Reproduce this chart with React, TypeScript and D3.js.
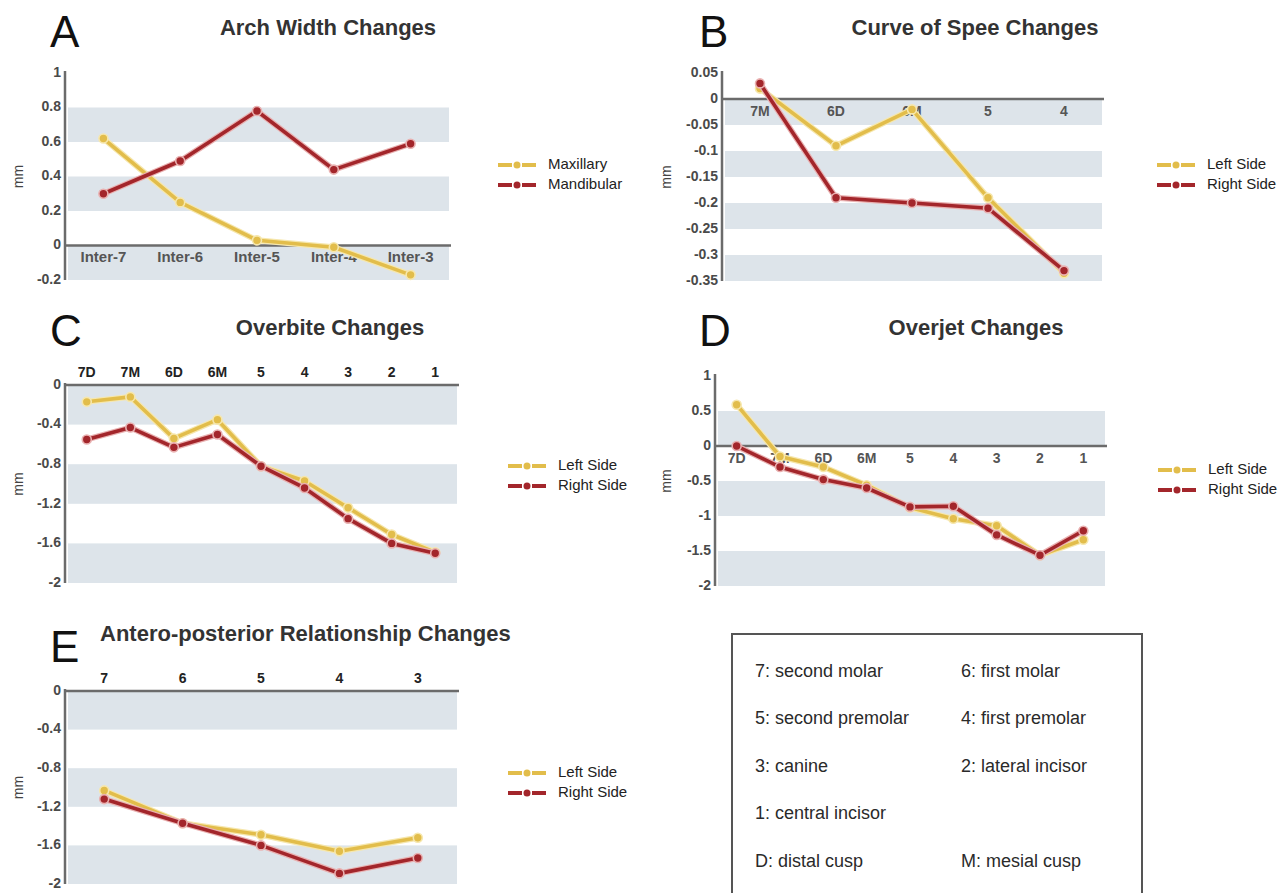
import React, { useEffect, useRef } from 'react';
import * as d3 from 'd3';

// A: arch width
const archCategories = ['Inter-7', 'Inter-6', 'Inter-5', 'Inter-4', 'Inter-3'];
const archMaxillary = [0.62, 0.25, 0.03, -0.01, -0.17];
const archMandibular = [0.30, 0.49, 0.78, 0.44, 0.59];
const archTicks = [-0.2, 0, 0.2, 0.4, 0.6, 0.8, 1];

// B: curve of spee
const speeCategories = ['7M', '6D', '6M', '5', '4'];
const speeLeft = [0.02, -0.09, -0.02, -0.19, -0.335];
const speeRight = [0.03, -0.19, -0.2, -0.21, -0.33];
const speeTicks = [-0.35, -0.3, -0.25, -0.2, -0.15, -0.1, -0.05, 0, 0.05];

// C + D: per tooth
const toothCategories = ['7D', '7M', '6D', '6M', '5', '4', '3', '2', '1'];
const overbiteLeft = [-0.17, -0.12, -0.54, -0.35, -0.82, -0.97, -1.24, -1.51, -1.69];
const overbiteRight = [-0.55, -0.43, -0.63, -0.5, -0.82, -1.04, -1.35, -1.6, -1.7];
const overbiteTicks = [-2, -1.6, -1.2, -0.8, -0.4, 0];

const overjetLeft = [0.59, -0.15, -0.3, -0.56, -0.88, -1.04, -1.14, -1.56, -1.34];
const overjetRight = [0.0, -0.3, -0.48, -0.6, -0.87, -0.86, -1.27, -1.56, -1.21];
const overjetTicks = [-2, -1.5, -1, -0.5, 0, 0.5, 1];

// E: antero-posterior
const apCategories = ['7', '6', '5', '4', '3'];
const apLeft = [-1.03, -1.37, -1.49, -1.66, -1.52];
const apRight = [-1.12, -1.37, -1.6, -1.89, -1.73];
const apTicks = [-2, -1.6, -1.2, -0.8, -0.4, 0];

// key box
const keyLeft = ['7: second molar', '5: second premolar', '3: canine', '1: central incisor', 'D: distal cusp'];
const keyRight = ['6: first molar', '4: first premolar', '2: lateral incisor', '', 'M: mesial cusp'];

const FONT = '"Liberation Sans", Arial, sans-serif';
const YELLOW = '#e2bd4b';
const YELLOW_LIGHT = '#f6e7ad';
const RED = '#a3262b';
const RED_LIGHT = '#e9b1b1';
const BAND = '#dde4ea';
const AXIS = '#6b6b6b';

function drawPanel(svg: any, p: any) {
    const y = d3.scaleLinear()
        .domain([p.ticks[0], p.ticks[p.ticks.length - 1]])
        .range([p.bottom, p.top]);
    const x = d3.scalePoint()
        .domain(p.categories)
        .range([p.left, p.right])
        .padding(0.5);

    const g = svg.append('g');

    // alternating bands, gray from the bottom up
    for (let i = 0; i < p.ticks.length - 1; i += 2) {
        g.append('rect')
            .attr('x', p.left + 3)
            .attr('y', y(p.ticks[i + 1]))
            .attr('width', p.right - p.left - 3)
            .attr('height', y(p.ticks[i]) - y(p.ticks[i + 1]))
            .attr('fill', BAND);
    }

    // axes
    g.append('line')
        .attr('x1', p.left).attr('x2', p.left)
        .attr('y1', p.top - 2).attr('y2', p.bottom)
        .attr('stroke', AXIS).attr('stroke-width', 2.5);
    g.append('line')
        .attr('x1', p.left).attr('x2', p.right + 2)
        .attr('y1', y(0)).attr('y2', y(0))
        .attr('stroke', AXIS).attr('stroke-width', 2.5);

    g.selectAll('.tick')
        .data(p.ticks)
        .enter().append('text')
        .attr('x', p.left - 4)
        .attr('y', (d: number) => y(d))
        .attr('text-anchor', 'end')
        .attr('dominant-baseline', 'middle')
        .style('font-family', FONT)
        .style('font-size', '14px')
        .style('font-weight', 'bold')
        .attr('fill', '#4a4a4a')
        .text((d: number) => String(d));

    const catY = p.labelsTop ? p.top - 12 : y(0) + 13;
    g.selectAll('.cat')
        .data(p.categories)
        .enter().append('text')
        .attr('x', (d: string) => x(d))
        .attr('y', catY)
        .attr('text-anchor', 'middle')
        .attr('dominant-baseline', 'middle')
        .style('font-family', FONT)
        .style('font-size', p.catSize || '14px')
        .style('font-weight', 'bold')
        .attr('fill', p.labelsTop ? '#222' : '#555')
        .text((d: string) => d);

    // y label
    g.append('text')
        .attr('transform', 'translate(' + p.mmX + ',' + (p.top + p.bottom) / 2 + ') rotate(-90)')
        .attr('text-anchor', 'middle')
        .attr('dominant-baseline', 'middle')
        .style('font-family', FONT)
        .style('font-size', '14px')
        .attr('fill', '#444')
        .text('mm');

    // title + panel letter
    g.append('text')
        .attr('x', p.titleX)
        .attr('y', p.titleY)
        .attr('text-anchor', p.titleAnchor || 'middle')
        .style('font-family', FONT)
        .style('font-size', '22px')
        .style('font-weight', 'bold')
        .attr('fill', '#333')
        .text(p.title);
    g.append('text')
        .attr('x', p.letterX)
        .attr('y', p.letterY)
        .style('font-family', FONT)
        .style('font-size', '44px')
        .attr('fill', '#111')
        .text(p.letter);

    // series, yellow first so red ends on top
    const line = d3.line<number>()
        .x((d, i) => x(p.categories[i]) as number)
        .y((d) => y(d));

    p.series.forEach((s: any) => {
        g.append('path')
            .attr('d', line(s.values))
            .attr('fill', 'none')
            .attr('stroke', s.light)
            .attr('stroke-width', 6)
            .attr('stroke-linejoin', 'round');
        g.append('path')
            .attr('d', line(s.values))
            .attr('fill', 'none')
            .attr('stroke', s.color)
            .attr('stroke-width', 3.6)
            .attr('stroke-linejoin', 'round');
        g.selectAll('.pt')
            .data(s.values)
            .enter().append('circle')
            .attr('cx', (d: number, i: number) => x(p.categories[i]))
            .attr('cy', (d: number) => y(d))
            .attr('r', 4.5)
            .attr('fill', s.color)
            .attr('stroke', s.light)
            .attr('stroke-width', 1.6);
    });

    // legend
    p.series.forEach((s: any, i: number) => {
        const ly = p.legendY + i * 20;
        const lg = g.append('g');
        lg.append('line')
            .attr('x1', p.legendX).attr('x2', p.legendX + 14)
            .attr('y1', ly).attr('y2', ly)
            .attr('stroke', s.color).attr('stroke-width', 4);
        lg.append('line')
            .attr('x1', p.legendX + 24).attr('x2', p.legendX + 38)
            .attr('y1', ly).attr('y2', ly)
            .attr('stroke', s.color).attr('stroke-width', 4);
        lg.append('circle')
            .attr('cx', p.legendX + 19).attr('cy', ly)
            .attr('r', 3.5)
            .attr('fill', s.color);
        lg.append('text')
            .attr('x', p.legendX + 50)
            .attr('y', ly)
            .attr('dominant-baseline', 'middle')
            .style('font-family', FONT)
            .style('font-size', '15px')
            .attr('fill', '#222')
            .text(s.name);
    });
}

export default function App() {
    const ref = useRef<SVGSVGElement>(null);

    useEffect(() => {
        document.body.style.margin = '0';
        const svg = d3.select(ref.current);
        svg.selectAll('*').remove();

        const sides = (left: number[], right: number[]) => [
            { name: 'Left Side', values: left, color: YELLOW, light: YELLOW_LIGHT },
            { name: 'Right Side', values: right, color: RED, light: RED_LIGHT }
        ];

        drawPanel(svg, {
            categories: archCategories, ticks: archTicks,
            series: [
                { name: 'Maxillary', values: archMaxillary, color: YELLOW, light: YELLOW_LIGHT },
                { name: 'Mandibular', values: archMandibular, color: RED, light: RED_LIGHT }
            ],
            left: 65, right: 449, top: 73, bottom: 280,
            title: 'Arch Width Changes', titleX: 328, titleY: 35,
            letter: 'A', letterX: 50, letterY: 47, mmX: 19,
            legendX: 498, legendY: 165, catSize: '15px'
        });

        drawPanel(svg, {
            categories: speeCategories, ticks: speeTicks, series: sides(speeLeft, speeRight),
            left: 722, right: 1102, top: 73, bottom: 281,
            title: 'Curve of Spee Changes', titleX: 975, titleY: 35,
            letter: 'B', letterX: 699, letterY: 47, mmX: 667,
            legendX: 1157, legendY: 165
        });

        drawPanel(svg, {
            categories: toothCategories, ticks: overbiteTicks, series: sides(overbiteLeft, overbiteRight),
            left: 65, right: 457, top: 385, bottom: 583, labelsTop: true,
            title: 'Overbite Changes', titleX: 330, titleY: 335,
            letter: 'C', letterX: 50, letterY: 346, mmX: 19,
            legendX: 508, legendY: 466
        });

        drawPanel(svg, {
            categories: toothCategories, ticks: overjetTicks, series: sides(overjetLeft, overjetRight),
            left: 715, right: 1105, top: 376, bottom: 586,
            title: 'Overjet Changes', titleX: 976, titleY: 335,
            letter: 'D', letterX: 699, letterY: 346, mmX: 667,
            legendX: 1158, legendY: 470
        });

        drawPanel(svg, {
            categories: apCategories, ticks: apTicks, series: sides(apLeft, apRight),
            left: 65, right: 457, top: 691, bottom: 884, labelsTop: true,
            title: 'Antero-posterior Relationship Changes', titleX: 100, titleY: 641, titleAnchor: 'start',
            letter: 'E', letterX: 50, letterY: 662, mmX: 19,
            legendX: 508, legendY: 773
        });

        // tooth key box
        svg.append('rect')
            .attr('x', 732).attr('y', 634)
            .attr('width', 410).attr('height', 300)
            .attr('fill', 'none')
            .attr('stroke', '#555')
            .attr('stroke-width', 2);

        const rowY = d3.scalePoint<number>().domain(d3.range(keyLeft.length)).range([672, 862]);
        [keyLeft, keyRight].forEach((col, c) => {
            svg.selectAll('.key' + c)
                .data(col)
                .enter().append('text')
                .attr('x', c === 0 ? 755 : 961)
                .attr('y', (d: string, i: number) => rowY(i))
                .attr('dominant-baseline', 'middle')
                .style('font-family', FONT)
                .style('font-size', '18px')
                .attr('fill', '#2a2a2a')
                .text((d: string) => d);
        });
    }, []);

    return (
        <svg ref={ref} width={1282} height={893} style={{ display: 'block', background: '#fff' }} />
    );
}
